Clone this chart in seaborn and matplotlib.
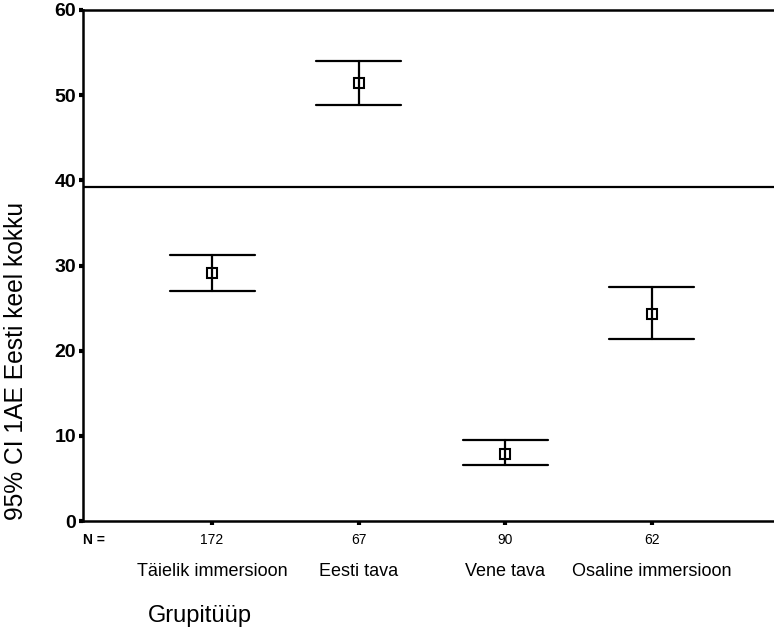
import numpy as np
import pandas as pd
import matplotlib
matplotlib.use('Agg')
import matplotlib.pyplot as plt
import seaborn as sns

groups = ['Täielik immersioon', 'Eesti tava', 'Vene tava', 'Osaline immersioon']
n_values = [172, 67, 90, 62]
means = [29.1, 51.4, 7.9, 24.3]
lower = [27.0, 48.9, 6.6, 21.4]
upper = [31.2, 54.0, 9.5, 27.5]
ref_line = 39.2

sns.set_style('ticks')
plt.rcParams['font.family'] = ['Liberation Sans', 'DejaVu Sans']
plt.rcParams['text.color'] = 'black'
plt.rcParams['xtick.color'] = 'black'
plt.rcParams['ytick.color'] = 'black'

# long table: lo, mean, hi per group -> median gives mean, min/max give CI
rows = []
for g, lo, m, hi in zip(groups, lower, means, upper):
    for v in (lo, m, hi):
        rows.append({'group': g, 'value': v})
df = pd.DataFrame(rows)

fig = plt.figure(figsize=(7.74, 6.39), dpi=100)
ax = fig.add_axes([83 / 774, 1 - 521 / 639, (781 - 83) / 774, (521 - 10) / 639])

sns.pointplot(data=df, x='group', y='value', order=groups,
              estimator='median', errorbar=lambda v: (v.min(), v.max()),
              capsize=0.58, color='black', markers='s', linestyles='none',
              err_kws={'linewidth': 1.6}, markersize=7.5,
              markerfacecolor='white', markeredgewidth=1.5, ax=ax)

ax.axhline(ref_line, color='black', linewidth=1.6)

ax.set_ylim(0, 60)
ax.set_xlim(-0.88, 3.88)
ax.set_yticks([0, 10, 20, 30, 40, 50, 60])
ax.tick_params(axis='y', left=True, length=3, width=3, direction='out', labelsize=14, pad=2)
ax.tick_params(axis='x', bottom=True, length=3, width=3, direction='out', labelsize=11, pad=6)
for lab in ax.get_yticklabels():
    lab.set_fontweight('bold')
ax.set_xticks(range(len(groups)))
ax.set_xticklabels([str(n) for n in n_values], fontsize=10)
for s in ['left', 'bottom', 'top']:
    ax.spines[s].set_linewidth(1.8)
    ax.spines[s].set_color('black')
    ax.spines[s].set_visible(True)
ax.spines['right'].set_visible(False)

ax.set_xlabel('')
ax.set_ylabel('')
fig.text(16 / 774, 1 - 361 / 639, '95% CI 1AE Eesti keel kokku', fontsize=17.7,
         rotation=90, ha='center', va='center')

fig.text(83 / 774, 1 - 540 / 639, 'N =', fontsize=10, va='center', ha='left', weight='bold')
for i, g in enumerate(groups):
    x = ax.transData.transform((i, 0))[0] / fig.bbox.width
    fig.text(x, 1 - 571 / 639, g, fontsize=13, ha='center', va='center')
fig.text(148 / 774, 1 - 616 / 639, 'Grupitüüp', fontsize=17, ha='left', va='center')

fig.savefig('out.png', dpi=100)
